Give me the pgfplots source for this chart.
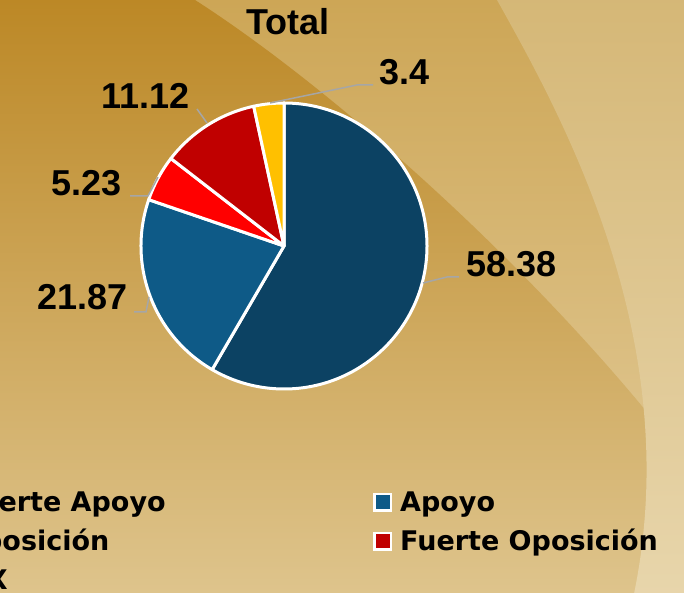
\documentclass[border=0pt]{standalone}
\usepackage{pgfplots}
\pgfplotsset{compat=1.18}
\usepackage{pgfplotstable}
\usepackage{fontspec}
\setmainfont{Liberation Sans}
\newfontfamily\legfont{DejaVu Sans}

\definecolor{fapoyo}{HTML}{0C4263}
\definecolor{apoyo}{HTML}{0E5A87}
\definecolor{oposicion}{HTML}{FF0000}
\definecolor{fopos}{HTML}{C00000}
\definecolor{nsnc}{HTML}{FFC000}
\definecolor{leader}{HTML}{A6A6A6}

% slice values, clockwise from 12 o'clock
\pgfplotstableread{
label value
FuerteApoyo 58.38
Apoyo 21.87
Oposicion 5.23
FuerteOposicion 11.12
X 3.4
}\piedata

\newcommand\pieslice[2]{%
  \edef\temp{\noexpand\fill[#2, draw=white, line width=3pt, line join=round]
    (axis cs:0,0) -- (axis cs:{cos(\csname sa#1\endcsname)},{sin(\csname sa#1\endcsname)})
    arc[start angle=\csname sa#1\endcsname, end angle=\csname sb#1\endcsname, radius=143pt] -- cycle;}%
  \temp}

\begin{document}
\begin{tikzpicture}[x=1pt,y=1pt]
\useasboundingbox (0,0) rectangle (684,593);
\clip (0,0) rectangle (684,593);

% slide background
\shade[top color={rgb,255:red,205;green,166;blue,86}, bottom color={rgb,255:red,228;green,206;blue,158}]
  (0,0) rectangle (684,593);
\shade[top color={rgb,255:red,188;green,136;blue,38}, bottom color={rgb,255:red,222;green,196;blue,140}]
  (0,593) -- (195,593) .. controls (340,500) and (560,303) .. (700,113) -- (700,0) -- (0,0) -- cycle;
\shade[top color={rgb,255:red,213;green,183;blue,118}, bottom color={rgb,255:red,232;green,214;blue,172}]
  (497,593) .. controls (560,480) and (690,250) .. (632,-10) -- (700,-10) -- (700,600) -- cycle;

% cumulative angles
\gdef\angcur{90}
\foreach \i in {0,...,4}{%
  \pgfplotstablegetelem{\i}{value}\of\piedata
  \pgfmathsetmacro\tmpb{\angcur-3.6*\pgfplotsretval}%
  \expandafter\xdef\csname sa\i\endcsname{\angcur}%
  \expandafter\xdef\csname sb\i\endcsname{\tmpb}%
  \xdef\angcur{\tmpb}%
}

\begin{axis}[at={(284pt,347pt)}, anchor=origin, x=143pt, y=143pt,
  xmin=-1, xmax=1, ymin=-1, ymax=1, hide axis, clip=false]
\pieslice{0}{fapoyo}
\pieslice{1}{apoyo}
\pieslice{2}{oposicion}
\pieslice{3}{fopos}
\pieslice{4}{nsnc}
\end{axis}

% leader lines
\begin{scope}[draw=leader, line width=1.5pt]
\draw (423,310) -- (447,316) -- (459,316);
\draw (149,296) -- (146,281) -- (134,281);
\draw (158,416) -- (148,397) -- (130,397);
\draw (207,470) -- (197,484);
\draw (270,490) -- (357,508) -- (373,508);
\end{scope}

% labels
\begin{scope}[every node/.style={inner sep=0pt, font=\fontsize{36}{40}\selectfont\bfseries}]
\node[anchor=base west] at (246,558) {Total};
\node[anchor=base west] at (466,316) {58.38};
\node[anchor=base east] at (128,283) {21.87};
\node[anchor=base east] at (122,397) {5.23};
\node[anchor=base east] at (190,484) {11.12};
\node[anchor=base west] at (379,508) {3.4};
\end{scope}

% legend
\begin{scope}[every node/.style={inner sep=0pt, anchor=base west, font=\legfont\fontsize{27}{30}\selectfont\bfseries}]
\fill[white] (-66,81) rectangle (-47,100);  \fill[fapoyo] (-63.5,83.5) rectangle (-49.5,97.5);
\node at (-38,81) {Fuerte Apoyo};
\fill[white] (373,81) rectangle (392,100);  \fill[apoyo] (375.5,83.5) rectangle (389.5,97.5);
\node at (400,81) {Apoyo};
\fill[white] (-66,42) rectangle (-47,61);  \fill[oposicion] (-63.5,44.5) rectangle (-49.5,58.5);
\node at (-40,42) {Oposición};
\fill[white] (373,42) rectangle (392,61);  \fill[fopos] (375.5,44.5) rectangle (389.5,58.5);
\node at (400,42) {Fuerte Oposición};
\node[anchor=base east] at (8,3) {X};
\end{scope}
\end{tikzpicture}
\end{document}
